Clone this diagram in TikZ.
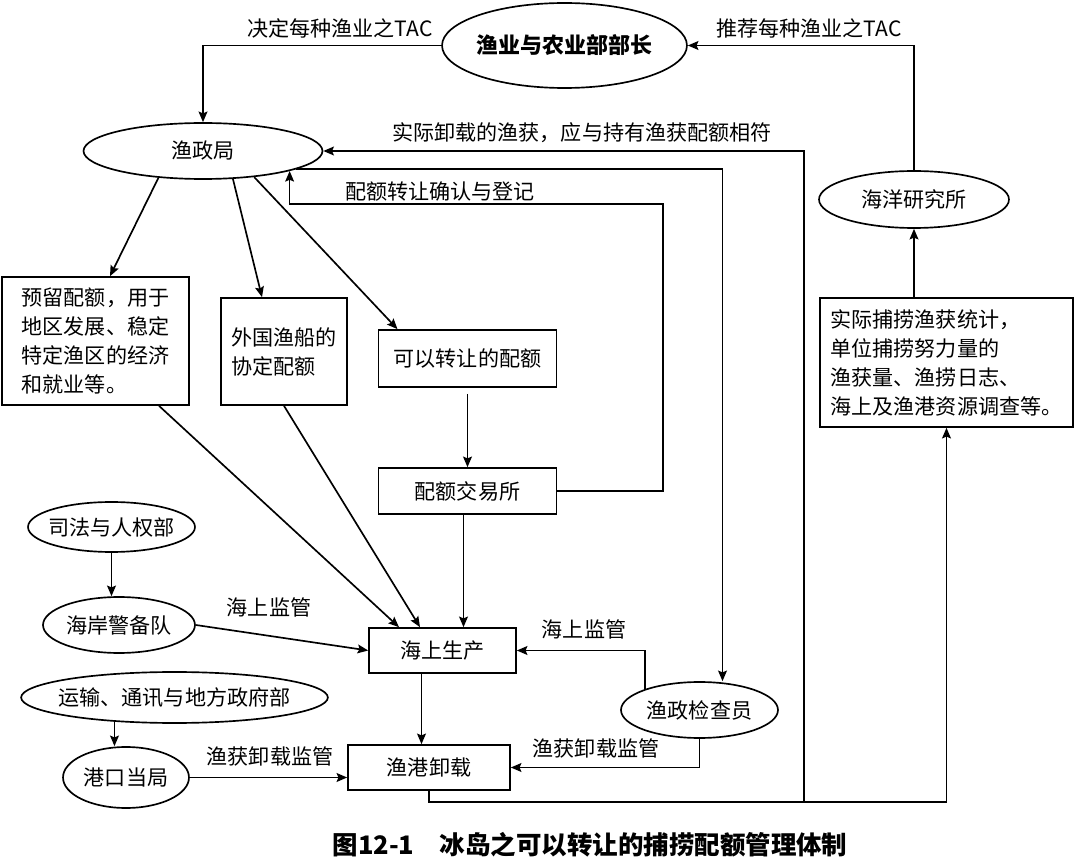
\documentclass[tikz,border=0pt]{standalone}
\usepackage{fontspec}
\setmainfont{Noto Sans CJK SC}
\usepackage{tikz}
\usetikzlibrary{arrows,arrows.meta,calc,positioning,shapes.geometric}

\begin{document}
\begin{tikzpicture}[x=0.02cm, y=-0.02cm, >={Stealth[length=6pt,width=5pt,inset=1pt]}, line width=0.95pt,
        font=\fontsize{12}{16.5}\selectfont,
        box/.style={draw, rectangle, inner sep=0pt, align=left},
        oval/.style={draw, ellipse, inner xsep=-0.15cm, inner ysep=0pt},
        lbl/.style={inner sep=0pt}]
    \useasboundingbox (0,0) rectangle (1080,868);

    % Ministro e istituti in alto
    \node[oval, minimum width=4.9cm, minimum height=1.7cm, font=\fontsize{12.5}{15}\selectfont\bfseries] (ministro) at (564.5,45.5) {渔业与农业部部长};
    \node[oval, minimum width=4.78cm, minimum height=1.12cm] (yzj) at (203,151) {渔政局};
    \node[oval, minimum width=3.8cm, minimum height=1.14cm] (hyyjs) at (914,199.5) {海洋研究所};
    \node[box, minimum width=5.06cm, minimum height=2.58cm] (stats) at (946.5,362.5) {实际捕捞渔获统计，\\单位捕捞努力量的\\渔获量、渔捞日志、\\海上及渔港资源调查等。};

    % Quote
    \node[box, minimum width=3.74cm, minimum height=2.56cm] (ylpe) at (95.5,341) {预留配额，用于\\地区发展、稳定\\特定渔区的经济\\和就业等。};
    \node[box, minimum width=2.52cm, minimum height=2.14cm] (wgyc) at (284,351.5) {外国渔船的\\协定配额};
    \node[box, minimum width=3.56cm, minimum height=1.14cm] (kyzr) at (467.5,358.5) {可以转让的配额};
    \node[box, minimum width=3.56cm, minimum height=0.92cm] (pejys) at (467.5,491) {配额交易所};

    % Produzione e sbarco
    \node[box, minimum width=2.94cm, minimum height=0.9cm] (hsc) at (442.5,650.5) {海上生产};
    \node[box, minimum width=3.24cm, minimum height=0.9cm] (ygxz) at (429,767.5) {渔港卸载};

    % Controlli
    \node[oval, minimum width=3.34cm, minimum height=1.0cm] (sfrq) at (111.5,527) {司法与人权部};
    \node[oval, minimum width=3.04cm, minimum height=1.12cm] (hajbd) at (119,625) {海岸警备队};
    \node[oval, minimum width=5.66cm, minimum height=1.02cm] (ystf) at (174.5,697.5) {运输、通讯与地方政府部};
    \node[oval, minimum width=2.52cm, minimum height=1.22cm] (gkdj) at (126,777.5) {港口当局};
    \node[oval, minimum width=3.14cm, minimum height=1.12cm] (jcy) at (699.5,710) {渔政检查员};

    % Etichette
    \node[lbl] (tjd) at (340,28) {决定每种渔业之TAC};
    \node[lbl] (ttj) at (809,28) {推荐每种渔业之TAC};
    \node[lbl] (tsj) at (582,133) {实际卸载的渔获，应与持有渔获配额相符};
    \node[lbl] (tqr) at (440,192) {配额转让确认与登记};
    \node[lbl] (tjg1) at (269,607) {海上监管};
    \node[lbl] (tjg2) at (584,629) {海上监管};
    \node[lbl] (tjz1) at (270,756) {渔获卸载监管};
    \node[lbl] (tjz2) at (596,748) {渔获卸载监管};
    \node[font=\fontsize{14.5}{17}\selectfont\bfseries] (titolo) at (590,845) {图12-1\quad 冰岛之可以转让的捕捞配额管理体制};

    % Punti di snodo
    \coordinate (nodo) at (804,802);
    \coordinate (cq) at (663,204);
    \coordinate (hs) at ($(hsc.south)+(-21,0)$);
    \coordinate (ys) at (ystf.-158.5);
    \coordinate (px) at ($(pejys.south)+(-4,0)$);

    % TAC
    \draw[->] (ministro.west) -| (yzj.north);
    \draw[->] (hyyjs.north) |- (ministro.east);
    \draw[->] (hyyjs.south |- stats.north) -- (hyyjs.south);

    % Ripartizione delle quote
    \draw[->] (yzj.-149) -- ($(ylpe.north)+(14.5,0)$);
    \draw[->] (yzj.-43) -- ($(wgyc.north)+(-22,0)$);
    \draw[->] (yzj.-27.5) -- ($(kyzr.north)+(-70,0)$);
    \draw[->, shorten <=0.12cm] (kyzr) -- (pejys);
    \draw[->] (pejys.east) -| (cq) -| (yzj.-13);
    \draw[->] (yzj.-11) -| ($(jcy.north)+(23,0)$);

    % Verso la produzione in mare
    \draw[->] ($(ylpe.south)+(63.5,0)$) -- ($(hsc.north)+(-43.5,0)$);
    \draw[->] (wgyc.south) -- ($(hsc.north)+(-22.5,0)$);
    \draw[->] (px) -- (px |- hsc.north);
    \draw[->] (hs) -- (hs |- ygxz.north);

    % Vigilanza
    \draw[->] (sfrq.south) -- (sfrq.south |- hajbd.north);
    \draw[->] (hajbd.east) -- (hsc.west);
    \draw[->] (ys) -- (ys |- gkdj.north);
    \draw[->] (gkdj.east) -- (gkdj.east -| ygxz.west);
    \draw[->] (jcy.159) |- (hsc.east);
    \draw[->] (jcy.south) |- (ygxz.east);

    % Ritorno dei dati di sbarco
    \draw[->] (ygxz.south) |- (nodo) -| (stats.south);
    \draw[->] (nodo) |- (yzj.east);
\end{tikzpicture}
\end{document}
